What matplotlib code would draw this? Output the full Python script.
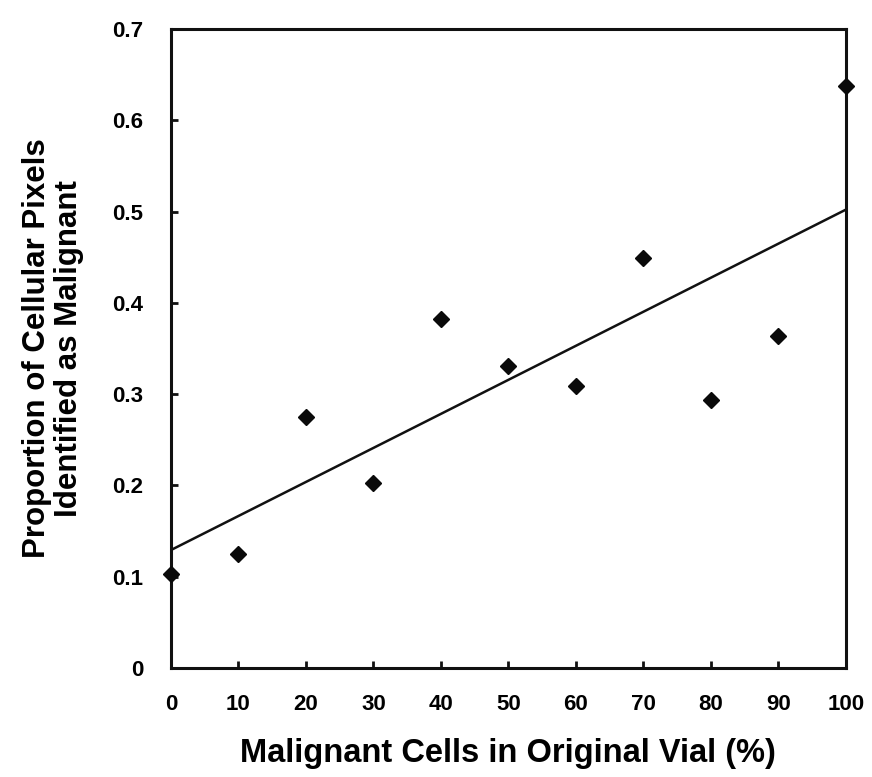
import numpy as np
import matplotlib
matplotlib.use("Agg")
from matplotlib import pyplot as plt

# percent of malignant cells in the original vial
pct_malignant = [0, 10, 20, 30, 40, 50, 60, 70, 80, 90, 100]
# proportion of cellular pixels identified as malignant
prop_pixels = [0.103, 0.125, 0.275, 0.203, 0.382, 0.331, 0.309, 0.449, 0.294, 0.364, 0.637]

x_ticks = [0, 10, 20, 30, 40, 50, 60, 70, 80, 90, 100]
y_ticks = [0, 0.1, 0.2, 0.3, 0.4, 0.5, 0.6, 0.7]
y_ticklabels = ['0', '0.1', '0.2', '0.3', '0.4', '0.5', '0.6', '0.7']

plt.rcParams['font.family'] = ['Liberation Sans', 'DejaVu Sans']
plt.rcParams['font.weight'] = 'bold'

fig = plt.figure(figsize=(8.72, 7.77), dpi=100)
ax = fig.add_axes([0.196, 0.1403, 0.774, 0.8224])

# linear trend line
pente, ordonnee = np.polyfit(pct_malignant, prop_pixels, 1)
x_lin = np.array([0, 100])
ax.plot(x_lin, pente * x_lin + ordonnee, color='#111111', lw=1.8, zorder=2)

ax.plot(pct_malignant, prop_pixels, linestyle='none', marker='D', ms=8,
        color='#0a0a0a', clip_on=False, zorder=3)

ax.set_xlim(0, 100)
ax.set_ylim(0, 0.7)
ax.set_xticks(x_ticks)
ax.set_yticks(y_ticks)
ax.set_yticklabels(y_ticklabels)

for sp in ax.spines.values():
    sp.set_linewidth(2.2)
    sp.set_color('#111111')

ax.tick_params(axis='both', direction='in', length=5, width=2, color='#111111',
               labelsize=16, top=False, right=False)
ax.tick_params(axis='x', pad=19)
ax.tick_params(axis='y', pad=20)
for lab in ax.get_xticklabels() + ax.get_yticklabels():
    lab.set_fontweight('bold')

ax.set_xlabel('Malignant Cells in Original Vial (%)', fontsize=23.5, fontweight='bold')
ax.xaxis.set_label_coords(0.5, -0.11)
ax.xaxis.label.set_va('top')

ax.set_ylabel('Proportion of Cellular Pixels\nIdentified as Malignant',
              fontsize=22.5, fontweight='bold', linespacing=1.1)
ax.yaxis.set_label_coords(-0.175, 0.5)
ax.yaxis.label.set_va('center')

fig.savefig('out.png', dpi=100, facecolor='white')
